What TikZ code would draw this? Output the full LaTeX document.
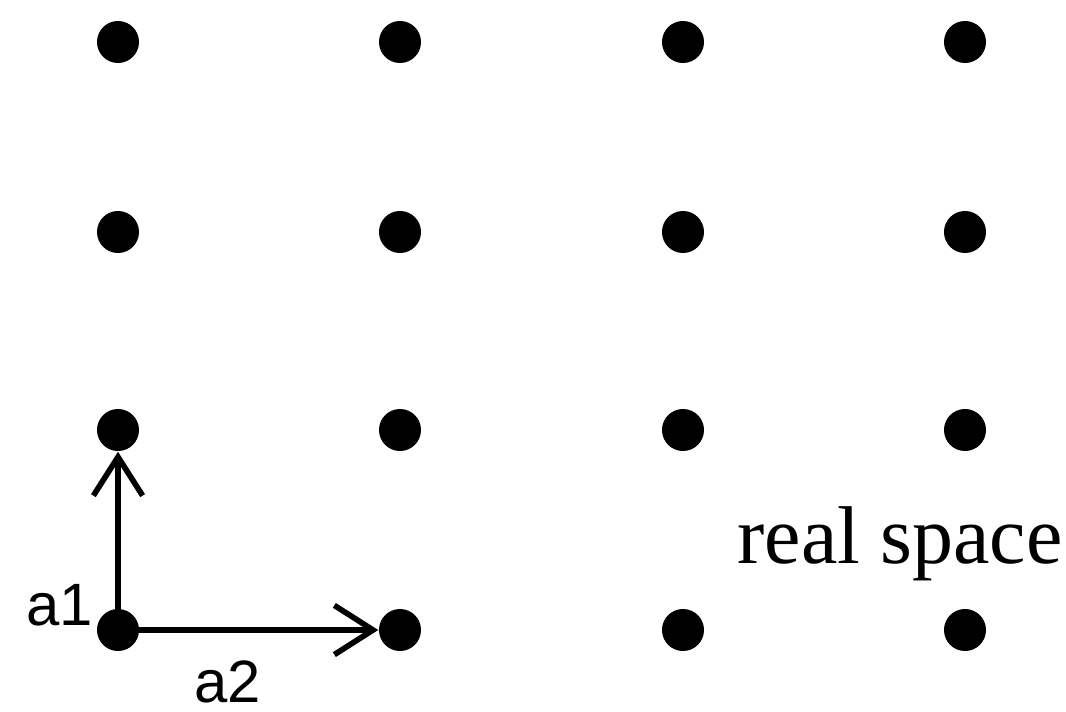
\documentclass[tikz,border=0pt]{standalone}
\usepackage{fontspec}
\setmainfont{Liberation Serif}
\newfontfamily\arialf{Liberation Sans}
\usetikzlibrary{arrows.meta}
\begin{document}
\begin{tikzpicture}[x=0.01cm,y=-0.01cm,
  dot/.style={circle,fill=black,inner sep=0pt,minimum size=0.42cm},
  vec/.style={line width=1.6pt,-{Straight Barb[length=11pt,width=14pt,line width=1.6pt]}},
  lab/.style={font=\arialf\fontsize{17}{20}\selectfont,inner sep=0pt}]
\useasboundingbox (0,0) rectangle (1066,712);
\foreach \i/\x in {1/118,2/400,3/683,4/965}{
  \foreach \j/\y in {1/42,2/232,3/430,4/630}{
    \node[dot] (d\i\j) at (\x,\y) {};
  }
}
\draw[vec] (d14.center) -- (d13);
\draw[vec] (d14.center) -- (d24);
\node[lab] (la1) at (60,605) {a1};
\node[lab] (la2) at (228,682) {a2};
\node[inner sep=0pt,font=\fontsize{23.3}{28}\selectfont] (rs) at (900,544) {real space};
\end{tikzpicture}
\end{document}
